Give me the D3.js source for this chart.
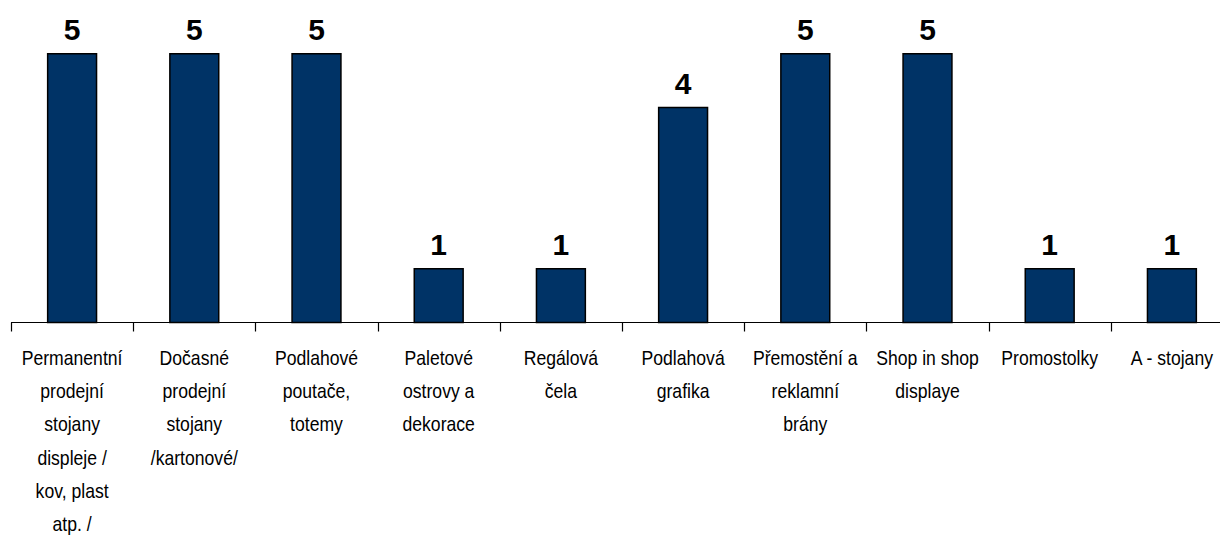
<!DOCTYPE html>
<html>
<head>
<meta charset="utf-8">
<script src="https://cdn.jsdelivr.net/npm/d3@7"></script>
<style>
  html, body { margin: 0; padding: 0; background: #fff; }
  svg { display: block; }
</style>
</head>
<body>
<svg id="chart" width="1220" height="543"></svg>
<script>
// Category labels, one array of wrapped lines per category
const categories = [
  "Permanentní prodejní stojany displeje / kov, plast atp. /",
  "Dočasné prodejní stojany /kartonové/",
  "Podlahové poutače, totemy",
  "Paletové ostrovy a dekorace",
  "Regálová čela",
  "Podlahová grafika",
  "Přemostění a reklamní brány",
  "Shop in shop displaye",
  "Promostolky",
  "A - stojany"
];
const categoryLines = [
  ["Permanentní", "prodejní", "stojany", "displeje /", "kov, plast", "atp. /"],
  ["Dočasné", "prodejní", "stojany", "/kartonové/"],
  ["Podlahové", "poutače,", "totemy"],
  ["Paletové", "ostrovy a", "dekorace"],
  ["Regálová", "čela"],
  ["Podlahová", "grafika"],
  ["Přemostění a", "reklamní", "brány"],
  ["Shop in shop", "displaye"],
  ["Promostolky"],
  ["A - stojany"]
];
const values = [5, 5, 5, 1, 1, 4, 5, 5, 1, 1];

const svg = d3.select("#chart");
const baseY = 322.5;

const x = d3.scaleBand()
  .domain(categories)
  .range([11, 1233])
  .padding(0);

const y = d3.scaleLinear()
  .domain([0, 6])
  .range([baseY, 0]);

const barW = x.bandwidth() * 0.4;

// Bars
svg.append("g")
  .selectAll("rect")
  .data(values)
  .join("rect")
  .attr("x", (d, i) => x(categories[i]) + (x.bandwidth() - barW) / 2)
  .attr("y", d => y(d))
  .attr("width", barW)
  .attr("height", d => y(0) - y(d))
  .attr("fill", "#003366")
  .attr("stroke", "#000")
  .attr("stroke-width", 1.5);

// Value labels
svg.append("g")
  .selectAll("text")
  .data(values)
  .join("text")
  .attr("x", (d, i) => x(categories[i]) + x.bandwidth() / 2)
  .attr("y", d => y(d) - 14)
  .attr("text-anchor", "middle")
  .attr("font-family", "Liberation Sans, Arial, sans-serif")
  .attr("font-weight", "bold")
  .attr("font-size", 30)
  .attr("fill", "#000")
  .text(d => d);

// Category axis: baseline plus ticks at band boundaries
const axis = svg.append("g").attr("stroke", "#000").attr("stroke-width", 1.2);
axis.append("line")
  .attr("x1", x.range()[0]).attr("x2", 1220)
  .attr("y1", baseY).attr("y2", baseY);
const bounds = categories.map(c => x(c)).concat([x.range()[1]]);
axis.selectAll("line.tick")
  .data(bounds)
  .join("line")
  .attr("class", "tick")
  .attr("x1", d => Math.round(d) + 0.5).attr("x2", d => Math.round(d) + 0.5)
  .attr("y1", baseY).attr("y2", baseY + 9);

// Wrapped category labels, set in a slightly condensed face
const lab = svg.append("g")
  .attr("font-family", "Liberation Sans, Arial, sans-serif")
  .attr("font-size", 20)
  .attr("fill", "#000")
  .attr("text-anchor", "middle");
categoryLines.forEach((lines, i) => {
  const cx = x(categories[i]) + x.bandwidth() / 2;
  lab.append("text")
    .attr("transform", `translate(${cx},0) scale(0.88,1)`)
    .selectAll("tspan")
    .data(lines)
    .join("tspan")
    .attr("x", 0)
    .attr("y", (d, j) => 365 + j * 33.2)
    .text(d => d);
});
</script>
</body>
</html>
